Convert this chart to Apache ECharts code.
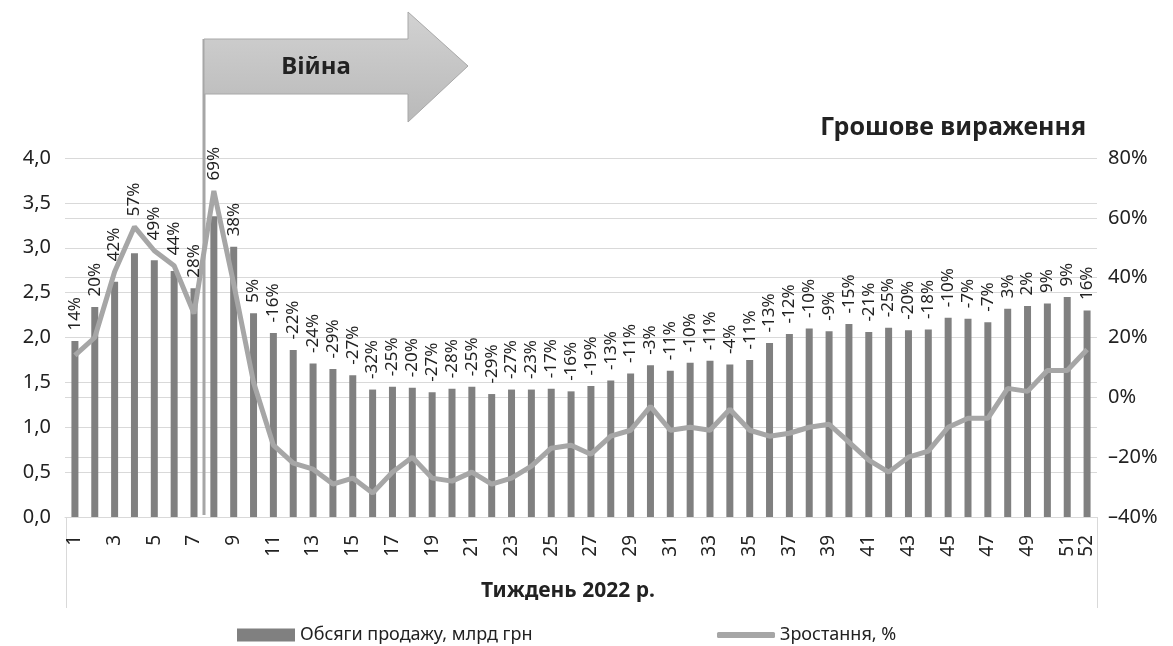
<!DOCTYPE html>
<html>
<head>
<meta charset="utf-8">
<script src="https://cdn.jsdelivr.net/npm/echarts@6/dist/echarts.min.js"></script>
<style>
  html, body { margin: 0; padding: 0; background: #fff; }
  #chart { width: 1173px; height: 646px; }
</style>
</head>
<body>
<div id="chart"></div>
<script>
// тижні 2022 р.
const weeks = [];
for (let i = 1; i <= 52; i++) weeks.push(String(i));

// обсяги продажу, млрд грн
const sales = [
  1.96, 2.34, 2.62, 2.94, 2.86, 2.74, 2.55, 3.35, 3.01, 2.27,
  2.05, 1.86, 1.71, 1.65, 1.58, 1.42, 1.45, 1.44, 1.39, 1.43,
  1.45, 1.37, 1.42, 1.42, 1.43, 1.40, 1.46, 1.52, 1.60, 1.69,
  1.63, 1.72, 1.74, 1.70, 1.75, 1.94, 2.04, 2.10, 2.07, 2.15,
  2.06, 2.11, 2.08, 2.09, 2.22, 2.21, 2.17, 2.32, 2.35, 2.38,
  2.45, 2.30
];

// зростання, %
const growth = [
  14, 20, 42, 57, 49, 44, 28, 69, 38, 5,
  -16, -22, -24, -29, -27, -32, -25, -20, -27, -28,
  -25, -29, -27, -23, -17, -16, -19, -13, -11, -3,
  -11, -10, -11, -4, -11, -13, -12, -10, -9, -15,
  -21, -25, -20, -18, -10, -7, -7, 3, 2, 9,
  9, 16
];

const leftTicks = { min: 0, max: 4, interval: 0.5 };
const rightTicks = { min: -40, max: 80, interval: 20 };

const FONT = '"Noto Sans", "Open Sans", sans-serif';
const TXT = '#222';
const GRID = '#d9d9d9';

// label anchors: above the higher of bar top and line point (in left-axis units)
const span = (leftTicks.max - leftTicks.min) / (rightTicks.max - rightTicks.min);
const labelAnchor = sales.map((v, i) => Math.max(v, (growth[i] - rightTicks.min) * span));

const chart = echarts.init(document.getElementById('chart'));

const option = {
  animation: false,
  backgroundColor: '#fff',
  grid: { left: 65, right: 76, top: 158, bottom: 129 },
  legend: [
    {
      left: 232, top: 621,
      itemWidth: 58, itemHeight: 13,
      textStyle: { fontFamily: FONT, fontSize: 18, color: TXT },
      data: [{ name: 'Обсяги продажу, млрд грн', icon: 'rect' }]
    },
    {
      left: 712, top: 621,
      itemWidth: 58, itemHeight: 6,
      textStyle: { fontFamily: FONT, fontSize: 18, color: TXT },
      data: [{ name: 'Зростання, %', icon: 'roundRect' }]
    }
  ],
  xAxis: {
    type: 'category',
    data: weeks,
    axisLine: { lineStyle: { color: GRID, width: 1 } },
    axisTick: { show: false },
    axisLabel: {
      rotate: 90,
      margin: 18,
      fontFamily: FONT,
      fontSize: 19,
      color: TXT,
      interval: (idx) => idx % 2 === 0 || idx === weeks.length - 1
    }
  },
  yAxis: [
    {
      type: 'value',
      min: leftTicks.min, max: leftTicks.max, interval: leftTicks.interval,
      axisLine: { show: false },
      axisTick: { show: false },
      axisLabel: {
        margin: 14,
        fontFamily: FONT, fontSize: 20, color: TXT,
        formatter: (v) => v.toFixed(1).replace('.', ',')
      },
      splitLine: { lineStyle: { color: GRID, width: 1 } }
    },
    {
      type: 'value',
      min: rightTicks.min, max: rightTicks.max, interval: rightTicks.interval,
      axisLine: { show: false },
      axisTick: { show: false },
      axisLabel: {
        margin: 11,
        fontFamily: FONT, fontSize: 20, color: TXT,
        formatter: (v) => (v < 0 ? '\u2013' + Math.abs(v) : v) + '%'
      },
      splitLine: { lineStyle: { color: GRID, width: 1 } }
    }
  ],
  series: [
    {
      name: 'Обсяги продажу, млрд грн',
      type: 'bar',
      yAxisIndex: 0,
      data: sales,
      barWidth: 7,
      itemStyle: { color: '#808080' },
      z: 2
    },
    {
      name: 'Зростання, %',
      type: 'line',
      yAxisIndex: 1,
      data: growth,
      symbol: 'none',
      lineStyle: { color: '#a6a6a6', width: 5 },
      itemStyle: { color: '#a6a6a6' },
      z: 3
    },
    {
      name: 'labels',
      type: 'line',
      yAxisIndex: 0,
      data: labelAnchor,
      symbol: 'circle',
      symbolSize: 1,
      itemStyle: { color: 'rgba(0,0,0,0)' },
      lineStyle: { opacity: 0 },
      silent: true,
      z: 4,
      label: {
        show: true,
        position: 'top',
        distance: 10,
        rotate: 90,
        align: 'left',
        verticalAlign: 'middle',
        fontFamily: FONT,
        fontSize: 17,
        color: TXT,
        formatter: (p) => growth[p.dataIndex] + '%'
      }
    }
  ]
};

chart.setOption(option);

// annotations: war marker arrow, titles, axis box
const xA = chart.convertToPixel({ xAxisIndex: 0 }, 6);
const xB = chart.convertToPixel({ xAxisIndex: 0 }, 7);
const warX = Math.round((xA + xB) / 2);
const yBottom = chart.convertToPixel({ yAxisIndex: 0 }, 0);
const gLeft = 65, gRight = 1173 - 76;

chart.setOption({
  graphic: [
    {
      type: 'line',
      shape: { x1: warX, y1: 39, x2: warX, y2: yBottom - 2 },
      style: { stroke: '#a6a6a6', lineWidth: 3 },
      z: 10
    },
    {
      type: 'polygon',
      shape: {
        points: [
          [warX, 39], [warX + 204, 39], [warX + 204, 12], [warX + 264, 66],
          [warX + 204, 122], [warX + 204, 94], [warX, 94]
        ]
      },
      style: {
        fill: new echarts.graphic.LinearGradient(0, 0, 0, 1, [
          { offset: 0, color: '#d2d2d2' },
          { offset: 1, color: '#b9b9b9' }
        ]),
        stroke: '#a8a8a8',
        lineWidth: 1
      },
      z: 11
    },
    {
      type: 'text',
      x: warX + 112, y: 67,
      style: {
        text: 'Війна',
        fontFamily: FONT, fontSize: 24, fontWeight: 'bold',
        fill: TXT, align: 'center', verticalAlign: 'middle'
      },
      z: 12
    },
    {
      type: 'text',
      x: 1086, y: 128,
      style: {
        text: 'Грошове вираження',
        fontFamily: FONT, fontSize: 25, fontWeight: 'bold',
        fill: TXT, align: 'right', verticalAlign: 'middle'
      }
    },
    {
      type: 'text',
      x: 568, y: 591,
      style: {
        text: 'Тиждень 2022 р.',
        fontFamily: FONT, fontSize: 21, fontWeight: 'bold',
        fill: TXT, align: 'center', verticalAlign: 'middle'
      }
    },
    {
      type: 'line',
      shape: { x1: gLeft + 1.5, y1: yBottom, x2: gLeft + 1.5, y2: 608 },
      style: { stroke: GRID, lineWidth: 1 }
    },
    {
      type: 'line',
      shape: { x1: gRight + 0.5, y1: yBottom, x2: gRight + 0.5, y2: 608 },
      style: { stroke: GRID, lineWidth: 1 }
    }
  ]
});
</script>
</body>
</html>
